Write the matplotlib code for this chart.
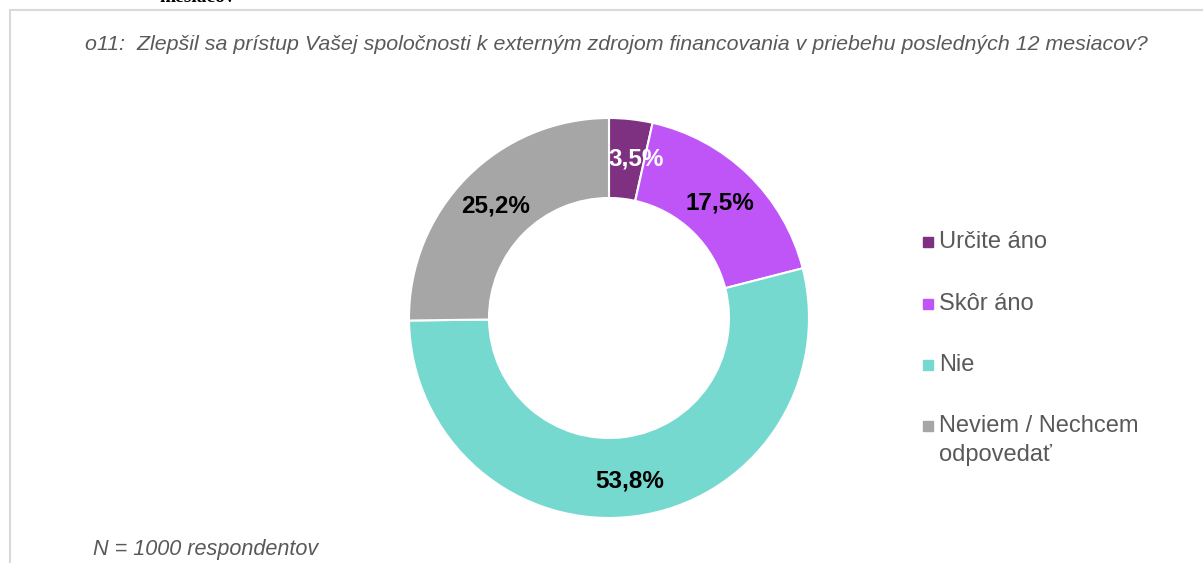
import matplotlib
matplotlib.use("Agg")
import matplotlib.pyplot as plt
from matplotlib.lines import Line2D
from matplotlib.patches import Rectangle
import numpy as np

categories = ["Určite áno", "Skôr áno", "Nie", "Neviem / Nechcem\nodpovedať"]
values = [3.5, 17.5, 53.8, 25.2]
labels = ["3,5%", "17,5%", "53,8%", "25,2%"]
colors = ["#7E3180", "#C055F7", "#75D9D0", "#A6A6A6"]
label_colors = ["white", "black", "black", "black"]

plt.rcParams['font.family'] = ['Liberation Sans', 'DejaVu Sans']

W, H = 1203, 563
fig = plt.figure(figsize=(W / 100, H / 100), dpi=100)
fig.patch.set_facecolor("white")

def fx(x):
    return x / W

def fy(y):
    return 1 - y / H

# frame lines
fig.add_artist(Line2D([fx(10), fx(10)], [fy(10), 0], color="#D9D9D9", lw=1.5))
fig.add_artist(Line2D([fx(10), 1], [fy(10), fy(10)], color="#D9D9D9", lw=1.5))

# cut-off text at top (partially outside the figure, as in the reference)
fig.text(fx(160), fy(2.5), "mesiacov", family="Liberation Serif", fontweight="bold",
         fontsize=14, color="black", ha="left", va="baseline")

fig.text(fx(616), fy(45), "o11:  Zlepšil sa prístup Vašej spoločnosti k externým zdrojom financovania v priebehu posledných 12 mesiacov?",
         fontsize=15.4, style="italic", color="#595959", ha="center", va="center")

fig.text(fx(93), fy(550), "N = 1000 respondentov", fontsize=15.6, style="italic",
         color="#595959", ha="left", va="center")

# donut axes: center (609,318), radius 200
r = 200
ax = fig.add_axes([fx(609 - r), fy(318 + r), 2 * r / W, 2 * r / H])
wedges, _ = ax.pie(values, colors=colors, startangle=90, counterclock=False,
                   radius=1.0, wedgeprops=dict(width=0.4, edgecolor="white", linewidth=1.5))
ax.set_xlim(-1, 1)
ax.set_ylim(-1, 1)
ax.set_aspect("equal")
ax.axis("off")

offsets = [(0.05, 0.0), (0.0, 0.0), (0.0, -0.02), (0.0, 0.0)]
cum = 0
for v, lab, lc, (dx, dy) in zip(values, labels, label_colors, offsets):
    mid = 90 - (cum + v / 2) * 3.6
    cum += v
    ang = np.deg2rad(mid)
    ax.text(0.8 * np.cos(ang) + dx, 0.8 * np.sin(ang) + dy, lab, ha="center", va="center",
            fontsize=17.5, fontweight="bold", color=lc)

# legend
leg_y = [242, 304, 365, 426]
for cat, col, y in zip(categories, colors, leg_y):
    fig.add_artist(Rectangle((fx(923), fy(y + 5)), 10 / W, 10 / H, color=col,
                             transform=fig.transFigure))
    for i, line in enumerate(cat.split("\n")):
        fig.text(fx(939), fy(y + i * 29), line, fontsize=17, color="#595959",
                 ha="left", va="center")

fig.savefig("out.png", dpi=100, facecolor="white")
